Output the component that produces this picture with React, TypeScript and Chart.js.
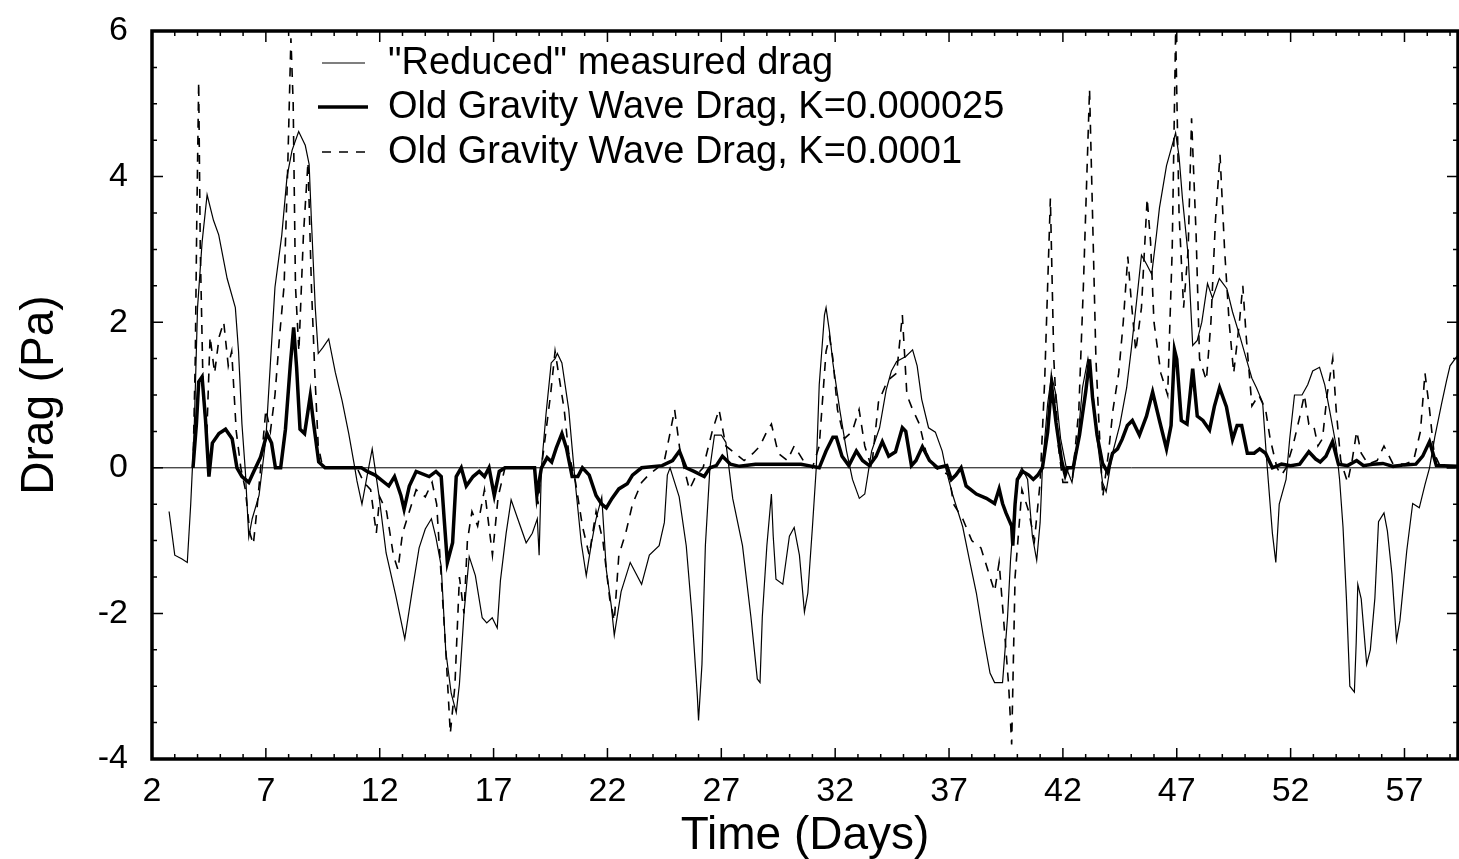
import React, { useEffect, useRef } from "react";
import { Chart, registerables } from "chart.js";

Chart.register(...registerables);

// x-axis tick labels (days) and y-axis ticks (Pa)
const dayTicks = [2, 7, 12, 17, 22, 27, 32, 37, 42, 47, 52, 57];
const dragTicks = [-4, -2, 0, 2, 4, 6];

// "Reduced" measured drag
const measuredDays = [
  2.75, 3.0, 3.3, 3.55, 3.7, 3.85, 4.0, 4.2, 4.42, 4.7, 4.93, 5.3, 5.66, 5.8, 5.95, 6.1, 6.25, 6.4, 6.7, 7.0,
  7.2, 7.4, 7.7, 7.93, 8.15, 8.44, 8.73, 8.9, 9.0, 9.17, 9.3, 9.5, 9.76, 10.05, 10.35, 10.64, 10.86, 11.0, 11.22, 11.44,
  11.67, 11.97, 12.28, 12.7, 13.1, 13.43, 13.73, 14.0, 14.27, 14.47, 14.7, 14.9, 15.14, 15.36, 15.5, 15.7, 15.93, 16.2, 16.5, 16.7,
  16.94, 17.16, 17.3, 17.55, 17.77, 18.06, 18.43, 18.7, 18.92, 19.0, 19.1, 19.3, 19.53, 19.7, 19.8, 20.0, 20.3, 20.45, 20.6, 20.85,
  21.07, 21.3, 21.5, 21.75, 21.95, 22.17, 22.3, 22.6, 23.0, 23.5, 23.84, 24.27, 24.5, 24.63, 24.75, 25.15, 25.46, 25.72, 25.95, 26.0,
  26.15, 26.3, 26.5, 26.7, 27.0, 27.2, 27.5, 27.93, 28.3, 28.58, 28.7, 28.8, 29.0, 29.2, 29.28, 29.4, 29.7, 29.99, 30.2, 30.43,
  30.65, 30.8, 31.0, 31.17, 31.3, 31.53, 31.6, 31.75, 31.9, 32.2, 32.5, 32.76, 33.06, 33.3, 33.6, 33.95, 34.24, 34.47, 34.7, 35.1,
  35.4, 35.6, 35.8, 36.1, 36.4, 36.7, 36.85, 37.15, 37.6, 37.9, 38.2, 38.5, 38.8, 39.0, 39.35, 39.57, 39.7, 39.9, 40.05, 40.2,
  40.45, 40.66, 40.85, 41.0, 41.1, 41.33, 41.5, 41.7, 41.9, 42.15, 42.4, 42.6, 42.86, 43.1, 43.3, 43.5, 43.74, 43.9, 44.18, 44.5,
  44.8, 45.0, 45.23, 45.45, 45.67, 45.9, 46.1, 46.24, 46.55, 46.95, 47.1, 47.25, 47.5, 47.7, 47.9, 48.1, 48.35, 48.57, 48.87, 49.2,
  49.45, 49.76, 50.06, 50.3, 50.5, 50.77, 50.95, 51.2, 51.35, 51.5, 51.8, 51.96, 52.17, 52.5, 52.75, 52.97, 53.27, 53.5, 53.7, 54.0,
  54.15, 54.3, 54.45, 54.6, 54.8, 54.88, 54.95, 55.1, 55.34, 55.5, 55.7, 55.86, 56.1, 56.25, 56.45, 56.65, 56.8, 57.1, 57.36, 57.65,
  57.9, 58.1, 58.33, 58.63, 58.85, 59.0, 59.35,
];
const measuredDrag = [
  -0.6, -1.2, -1.25, -1.3, -0.5, 0.5, 2.2, 3.1, 3.75, 3.4, 3.2, 2.6, 2.2, 1.6, 0.6, -0.05, -0.95, -0.7, -0.38, 0.4,
  1.44, 2.48, 3.2, 4.0, 4.36, 4.62, 4.43, 4.17, 3.4, 2.2, 1.57, 1.65, 1.77, 1.31, 0.92, 0.47, 0.08, -0.18, -0.5, -0.12,
  0.26, -0.39, -1.17, -1.75, -2.35, -1.68, -1.1, -0.84, -0.7, -0.96, -1.35, -2.52, -3.1, -3.36, -2.97, -2.0, -1.22, -1.48, -2.06, -2.13,
  -2.06, -2.2, -1.55, -0.9, -0.44, -0.7, -1.03, -0.9, -0.7, -1.2, 0.0, 0.73, 1.44, 1.5, 1.57, 1.44, 0.8, 0.27, -0.25, -1.03,
  -1.48, -1.03, -0.7, -0.4, -1.4, -1.9, -2.3, -1.7, -1.3, -1.6, -1.2, -1.07, -0.75, -0.1, 0.0, -0.4, -1.07, -2.05, -3.15, -3.47,
  -2.7, -1.07, 0.0, 0.45, 0.45, 0.35, -0.42, -1.07, -2.05, -2.9, -2.95, -2.05, -1.07, -0.36, -0.94, -1.53, -1.6, -0.94, -0.82, -1.2,
  -1.98, -1.72, -0.82, 0.0, 1.14, 2.1, 2.2, 1.87, 1.44, 0.8, 0.23, -0.16, -0.42, -0.36, 0.23, 0.55, 1.07, 1.33, 1.46, 1.53,
  1.62, 1.4, 0.94, 0.55, 0.49, 0.23, 0.0, -0.36, -0.81, -1.27, -1.72, -2.3, -2.82, -2.95, -2.95, -2.05, -1.27, -0.42, -0.1, 0.0,
  -0.16, -0.94, -1.27, -0.75, 0.0, 0.88, 1.27, 1.0, 0.4, 0.0, -0.2, 0.2, 1.1, 1.5, 1.1, 0.4, -0.2, -0.33, 0.2, 0.59,
  1.1, 1.62, 2.27, 2.92, 2.8, 2.66, 3.18, 3.57, 4.15, 4.6, 4.28, 3.7, 2.92, 1.68, 1.75, 2.0, 2.53, 2.33, 2.6, 2.46,
  2.14, 1.82, 1.49, 1.23, 1.1, 0.9, 0.1, -0.9, -1.3, -0.5, -0.16, 0.4, 1.0, 1.0, 1.14, 1.33, 1.38, 1.14, 0.81, 0.3,
  -0.16, -0.81, -1.79, -3.0, -3.08, -2.4, -1.6, -1.8, -2.7, -2.5, -1.79, -0.74, -0.62, -0.87, -1.46, -2.37, -2.1, -1.14, -0.49, -0.55,
  -0.23, 0.0, 0.42, 0.88, 1.2, 1.4, 1.55,
];

// Old Gravity Wave Drag, K=0.000025
const gwd25Days = [
  3.8, 3.95, 4.05, 4.2, 4.35, 4.5, 4.65, 4.94, 5.23, 5.52, 5.73, 5.95, 6.25, 6.47, 6.76, 7.05, 7.25, 7.42, 7.65, 7.86,
  8.08, 8.22, 8.35, 8.5, 8.7, 8.95, 9.1, 9.32, 9.6, 11.2, 11.45, 11.8, 12.4, 12.65, 12.93, 13.07, 13.3, 13.6, 14.17, 14.47,
  14.7, 14.83, 14.97, 15.2, 15.36, 15.58, 15.8, 16.1, 16.37, 16.6, 16.8, 17.03, 17.25, 17.5, 18.8, 18.9, 19.1, 19.35, 19.55, 19.75,
  20.0, 20.2, 20.45, 20.7, 20.9, 21.2, 21.5, 21.75, 21.95, 22.2, 22.5, 22.87, 23.1, 23.5, 24.4, 24.86, 25.16, 25.45, 25.8, 26.25,
  26.5, 26.78, 27.05, 27.4, 27.8, 28.5, 29.5, 30.5, 31.0, 31.3, 31.6, 31.9, 32.05, 32.3, 32.6, 32.93, 33.2, 33.5, 33.8, 34.07,
  34.35, 34.65, 34.95, 35.1, 35.35, 35.55, 35.83, 36.14, 36.5, 36.9, 37.1, 37.3, 37.53, 37.75, 38.2, 38.64, 39.0, 39.2, 39.35, 39.5,
  39.75, 39.8, 39.9, 40.0, 40.23, 40.5, 40.7, 40.9, 41.1, 41.33, 41.5, 41.7, 41.94, 42.1, 42.2, 42.45, 42.73, 43.0, 43.17, 43.3,
  43.5, 43.74, 43.96, 44.18, 44.4, 44.6, 44.83, 45.05, 45.36, 45.67, 45.94, 46.24, 46.55, 46.75, 46.9, 47.0, 47.2, 47.45, 47.7, 47.9,
  48.15, 48.44, 48.65, 48.88, 49.18, 49.45, 49.65, 49.85, 50.1, 50.4, 50.64, 50.9, 51.2, 51.6, 52.0, 52.4, 52.8, 53.1, 53.3, 53.55,
  53.84, 54.1, 54.5, 54.9, 55.2, 55.6, 56.05, 56.5, 57.0, 57.5, 57.8, 58.1, 58.25, 58.4, 59.35,
];
const gwd25Drag = [
  0.0, 0.6, 1.18, 1.25, 0.66, -0.12, 0.34, 0.47, 0.53, 0.4, 0.0, -0.12, -0.2, -0.05, 0.14, 0.47, 0.34, 0.0, 0.0, 0.53,
  1.44, 1.93, 1.38, 0.53, 0.47, 0.99, 0.6, 0.08, 0.0, 0.0, -0.05, -0.1, -0.25, -0.12, -0.38, -0.57, -0.25, -0.05, -0.12, -0.05,
  -0.12, -0.7, -1.3, -1.03, -0.12, 0.0, -0.25, -0.12, -0.05, -0.12, 0.0, -0.38, -0.05, 0.0, 0.0, -0.38, 0.0, 0.14, 0.08, 0.27,
  0.47, 0.27, -0.12, -0.12, 0.0, -0.1, -0.38, -0.5, -0.55, -0.42, -0.29, -0.22, -0.1, 0.0, 0.03, 0.1, 0.23, 0.0, -0.05, -0.12,
  0.0, 0.03, 0.16, 0.05, 0.02, 0.05, 0.05, 0.05, 0.02, 0.0, 0.23, 0.42, 0.42, 0.16, 0.03, 0.23, 0.1, 0.03, 0.16, 0.36,
  0.16, 0.22, 0.55, 0.5, 0.03, 0.1, 0.29, 0.1, 0.0, 0.03, -0.16, -0.1, 0.0, -0.25, -0.36, -0.42, -0.49, -0.29, -0.49, -0.62,
  -0.8, -1.07, -0.5, -0.16, -0.05, -0.1, -0.16, -0.1, 0.0, 0.49, 1.14, 0.62, 0.1, -0.1, 0.0, 0.0, 0.45, 1.04, 1.49, 0.97,
  0.45, 0.06, -0.06, 0.2, 0.26, 0.39, 0.58, 0.65, 0.45, 0.71, 1.04, 0.65, 0.26, 0.58, 1.62, 1.49, 0.65, 0.6, 1.36, 0.71,
  0.65, 0.52, 0.84, 1.1, 0.84, 0.39, 0.58, 0.58, 0.2, 0.2, 0.26, 0.2, 0.0, 0.05, 0.03, 0.05, 0.22, 0.12, 0.08, 0.16,
  0.36, 0.05, 0.03, 0.1, 0.03, 0.05, 0.06, 0.02, 0.04, 0.05, 0.16, 0.36, 0.2, 0.03, 0.02,
];

// Old Gravity Wave Drag, K=0.0001
const gwd100Days = [
  3.8, 3.9, 3.97, 4.05, 4.12, 4.25, 4.4, 4.55, 4.75, 4.95, 5.15, 5.35, 5.5, 5.7, 5.9, 6.1, 6.3, 6.45, 6.6, 6.8,
  7.0, 7.2, 7.4, 7.6, 7.8, 7.95, 8.1, 8.2, 8.3, 8.45, 8.65, 8.85, 9.0, 9.15, 9.3, 9.5, 11.0, 11.3, 11.6, 11.85,
  12.0, 12.3, 12.6, 12.8, 13.0, 13.3, 13.6, 14.0, 14.3, 14.5, 14.7, 14.9, 15.1, 15.3, 15.5, 15.7, 15.85, 16.05, 16.3, 16.6,
  16.95, 17.2, 17.5, 18.8, 18.95, 19.1, 19.3, 19.5, 19.7, 19.9, 20.1, 20.3, 20.6, 20.9, 21.2, 21.5, 21.8, 22.1, 22.3, 22.5,
  22.8, 23.1, 23.5, 23.8, 24.2, 24.5, 24.7, 24.95, 25.2, 25.6, 25.9, 26.2, 26.6, 26.9, 27.2, 27.6, 28.0, 28.4, 28.7, 29.0,
  29.2, 29.5, 29.9, 30.2, 30.6, 31.0, 31.3, 31.6, 31.75, 31.9, 32.1, 32.4, 32.75, 33.05, 33.3, 33.6, 33.9, 34.3, 34.7, 34.95,
  35.15, 35.4, 35.7, 36.0, 36.4, 37.0, 37.2, 37.6, 38.0, 38.4, 38.7, 39.0, 39.2, 39.45, 39.62, 39.75, 39.9, 40.2, 40.5, 40.75,
  41.0, 41.2, 41.45, 41.6, 41.8, 42.0, 42.4, 42.7, 42.9, 43.05, 43.17, 43.3, 43.45, 43.6, 43.75, 44.0, 44.2, 44.45, 44.65, 44.85,
  45.0, 45.2, 45.45, 45.7, 45.85, 46.0, 46.3, 46.6, 46.8, 46.95, 47.1, 47.3, 47.5, 47.65, 47.85, 48.0, 48.3, 48.5, 48.7, 48.9,
  49.1, 49.3, 49.5, 49.75, 49.9, 50.05, 50.3, 50.6, 50.9, 51.1, 51.4, 51.6, 51.8, 52.1, 52.4, 52.6, 52.8, 53.0, 53.2, 53.4,
  53.6, 53.85, 54.0, 54.2, 54.5, 54.7, 54.9, 55.1, 55.4, 55.8, 56.1, 56.5, 57.0, 57.4, 57.7, 57.9, 58.1, 58.3, 58.6, 59.35,
];
const gwd100Drag = [
  0.0, 1.5, 3.5, 5.3, 3.0, 1.0, 0.4, 1.8, 1.3, 1.8, 2.0, 1.4, 1.6, 0.5, 0.0, -0.3, -0.9, -1.05, -0.6, 0.1,
  0.8, 0.5, 1.0, 1.8, 2.5, 4.0, 5.9, 5.0, 2.5, 1.6, 3.2, 4.2, 2.5, 1.3, 0.3, 0.0, 0.0, -0.2, -0.3, -0.9,
  -0.4, -0.6, -1.2, -1.4, -0.9, -0.6, -0.3, -0.4, -0.2, -0.5, -1.5, -2.5, -3.65, -3.0, -1.5, -2.0, -1.0, -0.6, -0.8, -0.3,
  -1.2, -0.4, 0.0, 0.0, -0.5, 0.0, 0.5, 1.0, 1.6, 1.2, 0.8, 0.2, -0.2, -0.8, -1.2, -0.6, -1.0, -1.8, -2.1, -1.2,
  -0.9, -0.5, -0.2, -0.1, 0.0, 0.1, 0.4, 0.8, 0.2, -0.3, -0.1, 0.0, 0.5, 0.8, 0.3, 0.2, 0.1, 0.2, 0.3, 0.5,
  0.6, 0.2, 0.1, 0.3, 0.1, 0.0, 0.3, 1.6, 1.8, 1.5, 0.8, 0.4, 0.5, 0.8, 0.3, 0.0, 0.9, 1.2, 1.3, 2.1,
  1.0, 0.8, 0.6, 0.2, 0.0, -0.1, -0.5, -0.7, -1.0, -1.1, -1.4, -1.7, -1.3, -2.3, -3.0, -3.8, -1.5, -0.3, -0.6, -1.0,
  -0.2, 1.2, 3.7, 1.5, 0.3, -0.2, -0.2, 0.8, 2.5, 4.0, 5.2, 3.5, 1.5, 0.5, -0.4, 0.2, 0.8, 1.3, 2.0, 2.9,
  2.3, 1.6, 2.2, 3.7, 3.1, 2.0, 1.3, 1.0, 3.0, 6.0, 3.5, 2.2, 3.0, 4.8, 3.2, 1.5, 1.2, 2.0, 3.4, 4.3,
  3.0, 2.0, 1.3, 2.0, 2.5, 1.8, 0.85, 1.0, 0.8, 0.4, 0.0, -0.1, 0.0, 0.3, 0.7, 1.0, 0.6, 0.6, 0.3, 0.4,
  1.0, 1.5, 0.8, 0.1, -0.2, 0.1, 0.5, 0.2, 0.05, 0.1, 0.3, 0.05, 0.05, 0.1, 0.5, 1.3, 0.8, 0.2, 0.0, 0.0,
];

const legendLabels = [
  '"Reduced" measured drag',
  "Old Gravity Wave Drag, K=0.000025",
  "Old Gravity Wave Drag, K=0.0001",
];

const FONT = '"Liberation Sans", Arial, Helvetica, sans-serif';
const toPoints = (xs: number[], ys: number[]) => xs.map((x, i) => ({ x, y: ys[i] }));

const framePlugin = {
  id: "frame",
  beforeDatasetsDraw(chart: any) {
    const { ctx, chartArea } = chart;
    const y0 = chart.scales.y.getPixelForValue(0);
    ctx.save();
    ctx.strokeStyle = "#000";
    ctx.lineWidth = 1;
    ctx.beginPath();
    ctx.moveTo(chartArea.left, y0);
    ctx.lineTo(chartArea.right, y0);
    ctx.stroke();
    ctx.restore();
  },
  afterDraw(chart: any) {
    const { ctx, chartArea } = chart;
    const { left, right, top, bottom } = chartArea;
    const xs = chart.scales.x;
    const ys = chart.scales.y;
    ctx.save();
    ctx.strokeStyle = "#000";
    ctx.lineWidth = 3.5;
    ctx.strokeRect(left, top, right - left, bottom - top);
    ctx.lineWidth = 1.5;
    ctx.beginPath();
    for (let d = 2; d <= xs.max; d += 1) {
      const px = xs.getPixelForValue(d);
      const major = (d - 2) % 5 === 0;
      const len = major ? 11 : 5;
      ctx.moveTo(px, bottom);
      ctx.lineTo(px, bottom - len);
      ctx.moveTo(px, top);
      ctx.lineTo(px, top + len);
    }
    for (let v = -4; v <= 6; v += 0.5) {
      const py = ys.getPixelForValue(v);
      const major = Math.abs(v % 2) < 1e-9;
      const len = major ? 11 : 5;
      ctx.moveTo(left, py);
      ctx.lineTo(left + len, py);
      ctx.moveTo(right, py);
      ctx.lineTo(right - len, py);
    }
    ctx.stroke();

    // legend inside the plot
    const rows = [63, 107, 152];
    const widths = [1.2, 3.5, 1.6];
    const dashes = [[], [], [9, 8]];
    for (let i = 0; i < 3; i++) {
      ctx.lineWidth = widths[i];
      ctx.setLineDash(dashes[i]);
      ctx.beginPath();
      ctx.moveTo(i === 1 ? 318 : 322, rows[i]);
      ctx.lineTo(i === 1 ? 368 : 365, rows[i]);
      ctx.stroke();
    }
    ctx.setLineDash([]);
    ctx.fillStyle = "#000";
    ctx.font = `38px ${FONT}`;
    ctx.textBaseline = "middle";
    ctx.textAlign = "left";
    for (let i = 0; i < 3; i++) {
      ctx.fillText(legendLabels[i], 388, rows[i] + 1);
    }
    ctx.restore();
  },
};

export default function App() {
  const ref = useRef<HTMLCanvasElement | null>(null);
  useEffect(() => {
    if (!ref.current) return;
    const chart = new Chart(ref.current, {
      type: "line",
      data: {
        datasets: [
          {
            label: legendLabels[0],
            data: toPoints(measuredDays, measuredDrag),
            borderColor: "#000",
            borderWidth: 1.2,
            pointRadius: 0,
            tension: 0,
          },
          {
            label: legendLabels[1],
            data: toPoints(gwd25Days, gwd25Drag),
            borderColor: "#000",
            borderWidth: 3.5,
            pointRadius: 0,
            tension: 0,
          },
          {
            label: legendLabels[2],
            data: toPoints(gwd100Days, gwd100Drag),
            borderColor: "#000",
            borderWidth: 1.6,
            borderDash: [9, 8],
            pointRadius: 0,
            tension: 0,
          },
        ],
      },
      options: {
        responsive: false,
        animation: false,
        layout: { padding: { top: 31, right: 1, left: 0, bottom: 0 } },
        plugins: { legend: { display: false }, tooltip: { enabled: false } },
        scales: {
          x: {
            type: "linear",
            min: 2,
            max: 59.35,
            afterBuildTicks: (s: any) => {
              s.ticks = dayTicks.map((v) => ({ value: v }));
            },
            afterFit: (s: any) => {
              s.height = 100;
              s.paddingLeft = 0;
              s.paddingRight = 0;
            },
            grid: { display: false, drawTicks: false },
            border: { display: false },
            ticks: {
              color: "#000",
              padding: 12,
              maxRotation: 0,
              autoSkip: false,
              font: { family: FONT, size: 34 },
              callback: (v: any) => String(v),
            },
            title: {
              display: true,
              text: "Time (Days)",
              color: "#000",
              font: { family: FONT, size: 46, lineHeight: 1 },
              padding: { top: 0, bottom: 0 },
            },
          },
          y: {
            type: "linear",
            min: -4,
            max: 6,
            afterBuildTicks: (s: any) => {
              s.ticks = dragTicks.map((v) => ({ value: v }));
            },
            afterFit: (s: any) => {
              s.width = 152;
              s.paddingTop = 0;
              s.paddingBottom = 0;
            },
            grid: { display: false, drawTicks: false },
            border: { display: false },
            ticks: {
              color: "#000",
              padding: 24,
              font: { family: FONT, size: 34 },
              callback: (v: any) => String(v),
            },
            title: {
              display: true,
              text: "Drag (Pa)",
              color: "#000",
              font: { family: FONT, size: 46, lineHeight: 1 },
              padding: { top: 17, bottom: 0 },
            },
          },
        },
      },
      plugins: [framePlugin],
    });
    return () => chart.destroy();
  }, []);
  return (
    <div style={{ position: "fixed", left: 0, top: 0, width: 1459, height: 859, background: "#fff" }}>
      <canvas ref={ref} width={1459} height={859} style={{ display: "block", width: 1459, height: 859 }} />
    </div>
  );
}
